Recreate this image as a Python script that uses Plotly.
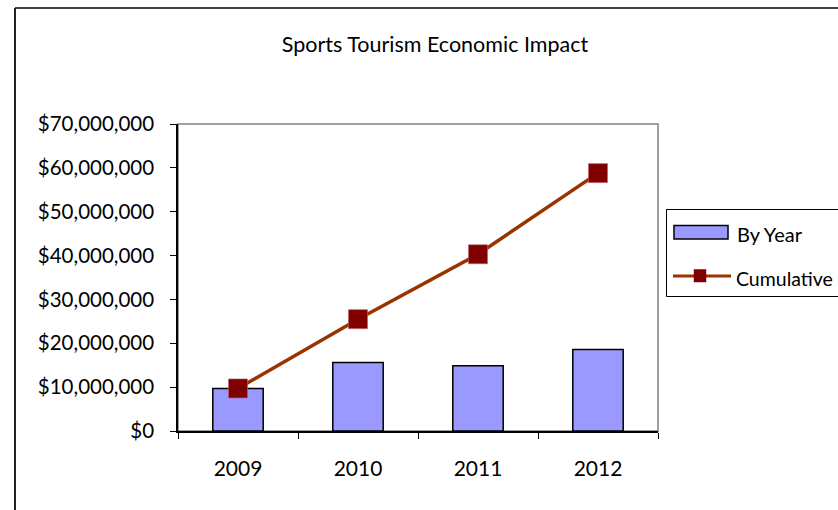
import plotly.graph_objects as go

# --- data ---
years = ["2009", "2010", "2011", "2012"]
by_year = [9_700_000, 15_600_000, 14_900_000, 18_600_000]
cumulative = [9_700_000, 25_500_000, 40_300_000, 58_800_000]
y_ticks = [0, 10_000_000, 20_000_000, 30_000_000, 40_000_000,
           50_000_000, 60_000_000, 70_000_000]
y_tick_labels = ["$0", "$10,000,000", "$20,000,000", "$30,000,000",
                 "$40,000,000", "$50,000,000", "$60,000,000", "$70,000,000"]

W, H = 838, 510
L, R, T, B = 178, 658, 124, 431  # plot-area pixel box

FONT = "Lato"
BAR_FILL = "#9999FF"
LINE_COL = "#993300"
MARK_COL = "#800000"


def px(x):
    return (x - L) / (R - L)


def py(y):
    return (B - y) / (B - T)


fig = go.Figure()

fig.add_trace(go.Bar(
    x=years, y=by_year, name="By Year",
    marker=dict(color=BAR_FILL, line=dict(color="black", width=1.5)),
))
fig.add_trace(go.Scatter(
    x=years, y=cumulative, name="Cumulative", mode="lines+markers",
    line=dict(color=LINE_COL, width=3.5),
    marker=dict(symbol="square", size=19, color=MARK_COL,
                line=dict(color="#C06070", width=0.6)),
))

shapes = [
    # gray plot-area border
    dict(type="rect", xref="paper", yref="paper", x0=0, x1=1, y0=0, y1=1,
         line=dict(color="#808080", width=1.5), layer="below"),
    # outer chart frame (runs past the right and bottom edges)
    dict(type="line", xref="paper", yref="paper",
         x0=px(15), x1=px(W + 20), y0=py(8), y1=py(8),
         line=dict(color="black", width=1.5)),
    dict(type="line", xref="paper", yref="paper",
         x0=px(15), x1=px(15), y0=py(8), y1=py(H + 20),
         line=dict(color="#222222", width=2)),
    # legend box
    dict(type="rect", xref="paper", yref="paper",
         x0=px(666.5), x1=px(W + 40), y0=py(209.5), y1=py(296.5),
         line=dict(color="black", width=1), fillcolor="white"),
    # legend swatch: bars
    dict(type="rect", xref="paper", yref="paper",
         x0=px(674), x1=px(728), y0=py(225.5), y1=py(239),
         line=dict(color="black", width=1.5), fillcolor=BAR_FILL),
    # legend swatch: line + marker
    dict(type="line", xref="paper", yref="paper",
         x0=px(673), x1=px(731), y0=py(276), y1=py(276),
         line=dict(color=LINE_COL, width=3)),
    dict(type="rect", xref="paper", yref="paper",
         x0=px(694), x1=px(706), y0=py(269.5), y1=py(282),
         line=dict(color=MARK_COL, width=0.5), fillcolor=MARK_COL),
]

annotations = [
    dict(text="By Year", xref="paper", yref="paper", x=px(735), y=py(234),
         xanchor="left", yanchor="middle", showarrow=False,
         font=dict(family=FONT, size=20, color="black")),
    dict(text="Cumulative", xref="paper", yref="paper", x=px(734), y=py(278),
         xanchor="left", yanchor="middle", showarrow=False,
         font=dict(family=FONT, size=19.5, color="black")),
]

fig.update_layout(
    width=W, height=H,
    margin=dict(l=L, r=W - R, t=T, b=H - B, autoexpand=False),
    paper_bgcolor="white", plot_bgcolor="white",
    showlegend=False,
    bargap=0.58,
    title=dict(text="Sports Tourism Economic Impact",
               xref="container", yref="container",
               x=435 / W, y=1 - 44 / H, xanchor="center", yanchor="middle",
               font=dict(family=FONT, size=21.5, color="black")),
    font=dict(family=FONT, size=21, color="black"),
    shapes=shapes,
    annotations=annotations,
)

fig.update_xaxes(
    type="category", showline=True, linecolor="black", linewidth=1.5,
    ticks="outside", ticklen=6, tickcolor="black", tickwidth=1.2,
    tickson="boundaries", showgrid=False, zeroline=False,
    ticklabelstandoff=18,
    tickfont=dict(family=FONT, size=21, color="black"),
)
fig.update_yaxes(
    range=[0, 70_000_000], tickmode="array",
    tickvals=y_ticks, ticktext=y_tick_labels,
    showline=True, linecolor="black", linewidth=1.5,
    ticks="outside", ticklen=6, tickcolor="black", tickwidth=1.2,
    showgrid=False, zeroline=False, ticklabelstandoff=12,
    tickfont=dict(family=FONT, size=20.5, color="black"),
)

fig.write_html("out.html")
